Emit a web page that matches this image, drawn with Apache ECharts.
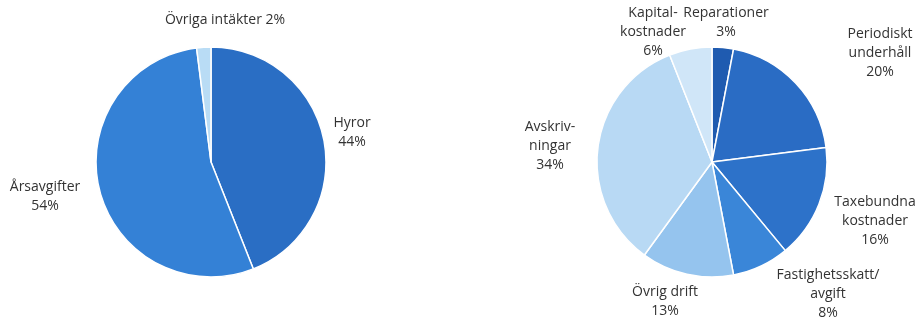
<!DOCTYPE html>
<html>
<head>
<meta charset="utf-8">
<script src="https://cdn.jsdelivr.net/npm/echarts@6/dist/echarts.min.js"></script>
<style>
html,body{margin:0;padding:0;background:#fff;}
#c{width:924px;height:320px;}
</style>
</head>
<body>
<div id="c"></div>
<script>
// Left pie: income
const incomeNames = ['Hyror', 'Årsavgifter', 'Övriga intäkter'];
const incomeValues = [44, 54, 2];
// Right pie: costs
const costNames = ['Reparationer', 'Periodiskt\nunderhåll', 'Taxebundna\nkostnader', 'Fastighetsskatt/\navgift', 'Övrig drift', 'Avskriv-\nningar', 'Kapital-\nkostnader'];
const costValues = [3, 20, 16, 8, 13, 34, 6];

// styles (not data)
const incomeColors = ['#2a6ec4', '#3481d6', '#b9dcf5'];
const costColors = ['#1f5bb0', '#2a6cc4', '#2d72c9', '#3a86d8', '#95c4ee', '#b8d9f4', '#d0e6f8'];
const incomeLabelPos = [[352, 133], [45, 197], [225, 20]];
const costLabelPos = [[726, 23], [880, 53], [875, 221], [828, 294], [665, 302], [550, 146], [653, 32]];
const incomeInline = [false, false, true];

const chart = echarts.init(document.getElementById('c'), null, {renderer: 'canvas'});
const font = {fontFamily: '"Open Sans", "DejaVu Sans", sans-serif', fontSize: 14, color: '#333', lineHeight: 19, align: 'center'};

chart.setOption({
  animation: false,
  backgroundColor: '#fff',
  series: [
    {
      type: 'pie',
      center: [211, 162],
      radius: [0, 115],
      startAngle: 90,
      clockwise: true,
      avoidLabelOverlap: false,
      itemStyle: {borderColor: '#fff', borderWidth: 1.5},
      label: Object.assign({show: true, position: 'outside'}, font),
      labelLine: {show: false},
      labelLayout: function (p) {
        const pos = incomeLabelPos[p.dataIndex];
        return {x: pos[0], y: pos[1], align: 'center', verticalAlign: 'middle'};
      },
      data: incomeNames.map((n, i) => ({
        name: n, value: incomeValues[i],
        itemStyle: {color: incomeColors[i]},
        label: {formatter: incomeInline[i] ? '{b} {c}%' : '{b}\n{c}%'}
      }))
    },
    {
      type: 'pie',
      center: [712, 162],
      radius: [0, 115],
      startAngle: 90,
      clockwise: true,
      avoidLabelOverlap: false,
      itemStyle: {borderColor: '#fff', borderWidth: 1.5},
      label: Object.assign({show: true, position: 'outside', formatter: '{b}\n{c}%'}, font),
      labelLine: {show: false},
      labelLayout: function (p) {
        const pos = costLabelPos[p.dataIndex];
        return {x: pos[0], y: pos[1], align: 'center', verticalAlign: 'middle'};
      },
      data: costNames.map((n, i) => ({
        name: n, value: costValues[i],
        itemStyle: {color: costColors[i]}
      }))
    }
  ]
});
</script>
</body>
</html>
